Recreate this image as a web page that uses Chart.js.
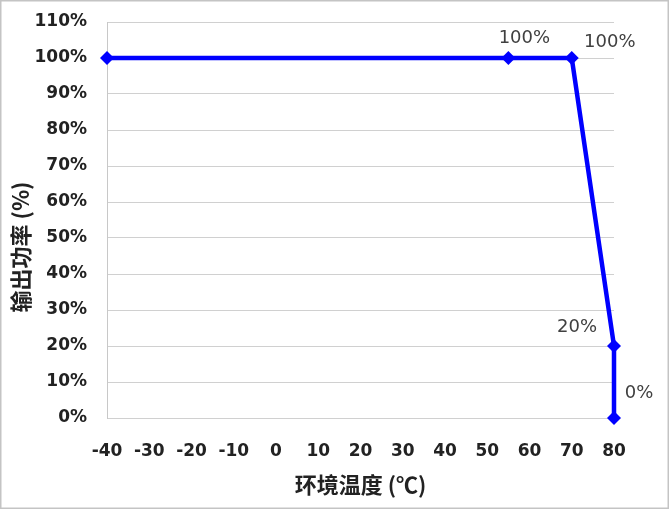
<!DOCTYPE html>
<html>
<head>
<meta charset="utf-8">
<script src="https://cdn.jsdelivr.net/npm/chart.js@4.4.1/dist/chart.umd.min.js"></script>
<style>
  html, body { margin: 0; padding: 0; background: #fff; }
  #wrap { width: 669px; height: 509px; }
</style>
</head>
<body>
<div id="wrap"><canvas id="powerChart" width="669" height="509"></canvas></div>
<script>
// derating curve: output power vs ambient temperature
const temps = [-40, 55, 70, 80, 80];
const power = [100, 100, 100, 20, 0];
const pointLabels = ['', '100%', '100%', '20%', '0%'];
const xTicks = [-40, -30, -20, -10, 0, 10, 20, 30, 40, 50, 60, 70, 80];
const yTicks = [0, 10, 20, 30, 40, 50, 60, 70, 80, 90, 100, 110];
const xTitle = '环境温度 (℃)';
const yTitle = '输出功率 (%)';

// where each point label sits relative to its marker
const labelOffsets = [[0, 0], [16, -20], [38, -16], [-37, -19], [25, -25]];

const tickFont = { family: '"DejaVu Sans"', size: 17, weight: 'bold' };
const titleFont = { family: '"Noto Sans CJK SC"', size: 22, weight: 'bold' };

const pointLabelPlugin = {
  id: 'pointLabels',
  afterDatasetsDraw(chart) {
    const ctx = chart.ctx;
    const meta = chart.getDatasetMeta(0);
    ctx.save();
    ctx.font = '18px "DejaVu Sans"';
    ctx.fillStyle = '#404040';
    ctx.textAlign = 'center';
    ctx.textBaseline = 'middle';
    meta.data.forEach((pt, i) => {
      if (!pointLabels[i]) return;
      ctx.fillText(pointLabels[i], pt.x + labelOffsets[i][0], pt.y + labelOffsets[i][1]);
    });
    ctx.restore();
  }
};

// y title sits a bit lower than the plot centre in the original
const yTitlePlugin = {
  id: 'yTitle',
  afterDraw(chart) {
    const ctx = chart.ctx;
    ctx.save();
    ctx.translate(21, 247);
    ctx.rotate(-Math.PI / 2);
    ctx.font = 'bold 22px "Noto Sans CJK SC"';
    ctx.fillStyle = '#222';
    ctx.textAlign = 'center';
    ctx.textBaseline = 'middle';
    ctx.fillText(yTitle, 0, 0);
    ctx.restore();
  }
};

const framePlugin = {
  id: 'frame',
  beforeDraw(chart) {
    const ctx = chart.ctx;
    ctx.save();
    ctx.fillStyle = '#fff';
    ctx.fillRect(0, 0, chart.width, chart.height);
    ctx.strokeStyle = '#c4c4c4';
    ctx.lineWidth = 1.5;
    ctx.strokeRect(0.75, 0.75, chart.width - 1.5, chart.height - 1.5);
    ctx.restore();
  }
};

new Chart(document.getElementById('powerChart'), {
  type: 'line',
  data: {
    datasets: [{
      data: temps.map((t, i) => ({ x: t, y: power[i] })),
      borderColor: '#0000ff',
      backgroundColor: '#0000ff',
      borderWidth: 4.5,
      pointStyle: 'rectRot',
      pointRadius: 7,
      pointHoverRadius: 7,
      pointBorderWidth: 0,
      tension: 0,
      fill: false,
      clip: false
    }]
  },
  options: {
    responsive: false,
    animation: false,
    layout: { autoPadding: false, padding: { left: 0, right: 55, top: 22, bottom: 0 } },
    plugins: {
      legend: { display: false },
      tooltip: { enabled: false }
    },
    scales: {
      x: {
        type: 'linear',
        min: xTicks[0],
        max: xTicks[xTicks.length - 1],
        afterBuildTicks: (scale) => { scale.ticks = xTicks.map(v => ({ value: v })); },
        afterFit: (scale) => { scale.height = 91; },
        grid: { display: false },
        border: { display: true, color: '#d0d0d0', width: 1 },
        ticks: { color: '#222', font: tickFont, padding: 15, maxRotation: 0, autoSkip: false },
        title: {
          display: true,
          text: xTitle,
          color: '#222',
          font: titleFont,
          padding: { top: 0, bottom: 11 }
        }
      },
      y: {
        min: yTicks[0],
        max: yTicks[yTicks.length - 1],
        afterBuildTicks: (scale) => { scale.ticks = yTicks.map(v => ({ value: v })); },
        afterFit: (scale) => { scale.width = 107; scale.paddingTop = 0; scale.paddingBottom = 0; },
        grid: { color: '#d0d0d0', lineWidth: 1, drawTicks: false },
        border: { display: true, color: '#c8c8c8', width: 1 },
        ticks: {
          color: '#222',
          font: tickFont,
          padding: 20,
          autoSkip: false,
          callback: (v) => v + '%'
        },
        title: { display: false }
      }
    }
  },
  plugins: [framePlugin, pointLabelPlugin, yTitlePlugin]
});
</script>
</body>
</html>
